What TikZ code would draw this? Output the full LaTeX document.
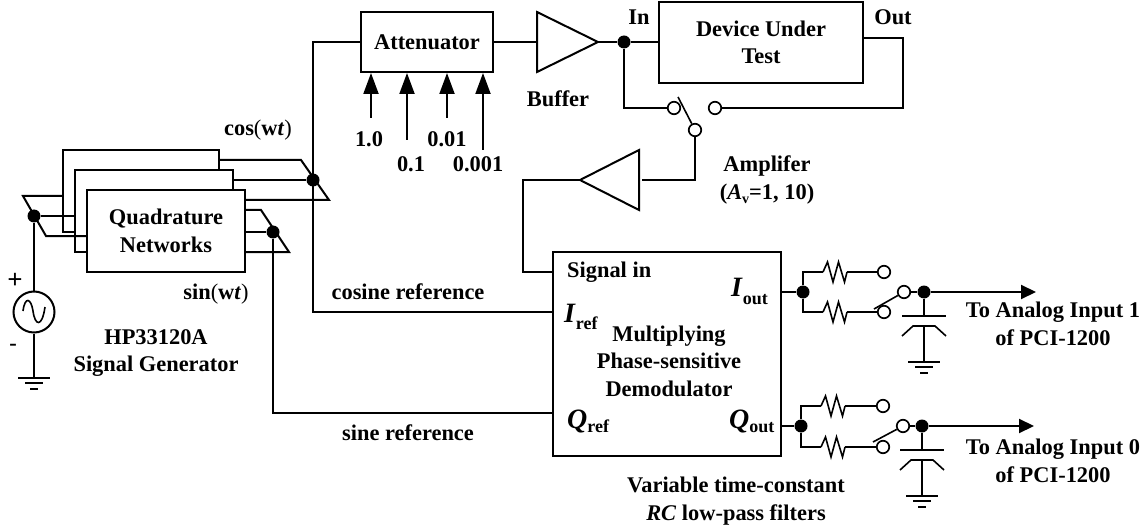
\documentclass[tikz,border=0pt]{standalone}
\usepackage{fontspec}
\setmainfont{Liberation Serif}
\usetikzlibrary{arrows.meta, positioning}

\newcommand{\biglabel}[3]{{\fontsize{28}{28}\selectfont\textit{#1}}\raisebox{#3}{\fontsize{18}{18}\selectfont #2}}

\tikzset{
  wire/.style={line width=2pt},
  thinwire/.style={line width=1.6pt},
  box/.style={draw, line width=2pt, fill=white, align=center, inner sep=0pt},
  label/.style={align=center, inner sep=0pt},
  junction/.style={circle, fill=black, inner sep=0pt, minimum size=13pt},
  contact/.style={circle, draw, line width=1.7pt, fill=white, inner sep=0pt, minimum size=12.5pt},
  ctlarrow/.style={wire, -{Triangle[length=21pt,width=15pt]}},
  outarrow/.style={wire, -{Triangle[length=15pt,width=14pt]}},
  resistor/.pic={
    \coordinate (-in) at (0,0);
    \coordinate (-out) at (24,0);
    \draw[thinwire] (0,0) -- (4.5,-10) -- (10,10) -- (15.5,-10) -- (21.5,10) -- (24,0);
  },
  gnd/.pic={
    \draw[thinwire] (-16,0) -- (16,0) (-9,5) -- (9,5) (-4,11) -- (4,11);
  },
  curvedplate/.pic={
    \draw[thinwire] (-22,10) -- (-11,0) -- (11,0) -- (22,10);
  }
}

\begin{document}
\begin{tikzpicture}[x=1pt, y=-1pt, font=\bfseries\fontsize{22.4}{27.5}\selectfont]
  \useasboundingbox (0,0) rectangle (1147,529);

  % Quadrature networks, back to front
  \node[box, minimum width=156pt, minimum height=82pt] (qnback) at (141,191) {};
  \node[box, minimum width=158pt, minimum height=82pt] (qnmid) at (154,211) {};
  \node[box, minimum width=158pt, minimum height=82pt] (qnfront) at (166,231) {Quadrature\\Networks};

  % Main blocks
  \node[box, minimum width=132pt, minimum height=60pt] (att) at (427,42) {Attenuator};
  \node[box, minimum width=204pt, minimum height=81pt] (dut) at (761,42.5) {Device Under\\Test};
  \node[box, minimum width=228pt, minimum height=204pt] (demod) at (667,354) {};

  % Source
  \node[circle, draw, line width=2pt, inner sep=0pt, minimum size=41pt] (src) at (34,312) {};
  \draw[thinwire] (23,311) .. controls (25,296) and (31,298) .. (33,311)
    .. controls (35,326) and (42,328) .. (45,307);
  \coordinate (srcgnd) at (34,378);
  \pic at (srcgnd) {gnd};
  \node[junction] (srcdot) at (34,216) {};
  \draw[wire] (srcdot) -- (src);
  \draw[wire] (src) -- (srcgnd);

  % Parallel feeds
  \node[junction] (cosdot) at (313,180) {};
  \node[junction] (sindot) at (273,232) {};
  \draw[wire] (qnback.west |- 0,196) -- (23,196) -- (46,236) -- (qnfront.west |- 0,236);
  \draw[wire] (srcdot) -- (qnmid.west |- srcdot);
  \draw[wire] (qnback.east |- 0,160) -- (301,160) -- (329,200) -- (qnfront.east |- 0,200);
  \draw[wire] (qnmid.east |- cosdot) -- (cosdot);
  \draw[wire] (qnfront.east |- 0,210) -- (261,210) -- (289,252) -- (qnfront.east |- 0,252);
  \draw[wire] (qnfront.east |- sindot) -- (sindot);

  % Reference lines
  \coordinate (irefbend) at (313,312);
  \coordinate (qrefbend) at (273,413);
  \draw[wire] (att.west) -| (irefbend) -- (demod.west |- irefbend);
  \draw[wire] (sindot) -- (qrefbend) -- (demod.west |- qrefbend);

  % Attenuator settings
  \coordinate (ctla) at (371,118);
  \coordinate (ctlb) at (407,140);
  \coordinate (ctlc) at (447,118);
  \coordinate (ctld) at (483,150);
  \draw[ctlarrow] (ctla) -- (ctla |- att.south);
  \draw[ctlarrow] (ctlb) -- (ctlb |- att.south);
  \draw[ctlarrow] (ctlc) -- (ctlc |- att.south);
  \draw[ctlarrow] (ctld) -- (ctld |- att.south);

  % Buffer and device
  \coordinate (bufin) at (537,42);
  \coordinate (bufout) at (598,42);
  \draw[wire] (bufin) -- (537,12) -- (bufout) -- (537,72) -- cycle;
  \node[junction] (indot) at (624,42) {};
  \draw[wire] (att.east) -- (bufin);
  \draw[wire] (bufout) -- (indot);
  \draw[wire] (indot) -- (dut.west |- indot);

  % Input switch
  \node[contact] (swa) at (674,108) {};
  \node[contact] (swb) at (715,108) {};
  \node[contact] (swc) at (695,130) {};
  \coordinate (armtip) at (678,97);
  \draw[thinwire] (armtip) -- (swc);
  \draw[wire] (indot) |- (swa);
  \coordinate (dutout) at (863,38);
  \coordinate (outbend) at (903,108);
  \draw[wire] (dutout) -| (outbend) -- (swb);

  % Amplifier
  \coordinate (ampin) at (642,180);
  \coordinate (ampout) at (580,180);
  \coordinate (sigbend) at (523,272);
  \draw[wire] (639,150) -- (639,210) -- (ampout) -- cycle;
  \draw[wire] (swc) |- (ampin);
  \draw[wire] (ampout) -| (sigbend) -- (demod.west |- sigbend);

  % I filter
  \node[junction] (idot) at (803,292) {};
  \node[junction] (iodot) at (924,292) {};
  \node[contact] (ifa) at (884,272) {};
  \node[contact] (ifb) at (884,312) {};
  \node[contact] (ifc) at (904,292) {};
  \coordinate (iarrow) at (1036,292);
  \coordinate (iarm) at (874,309);
  \coordinate (iplate) at (924,316);
  \coordinate (icurve) at (924,326);
  \coordinate (ignd) at (924,362);
  \pic (ira) at (823,272) {resistor};
  \pic (irb) at (823,312) {resistor};
  \draw[wire] (demod.east |- idot) -- (idot);
  \draw[wire] (idot) |- (ira-in);
  \draw[wire] (idot) |- (irb-in);
  \draw[wire] (ira-out) -- (ifa);
  \draw[wire] (irb-out) -- (ifb);
  \draw[thinwire] (iarm) -- (ifc);
  \draw[wire] (ifc) -- (iodot);
  \draw[outarrow] (iodot) -- (iarrow);
  \draw[wire] (iodot) -- (iplate);
  \draw[wire] (902,316) -- (946,316);
  \pic at (icurve) {curvedplate};
  \draw[wire] (icurve) -- (ignd);
  \pic at (ignd) {gnd};

  % Q filter
  \node[junction] (qdot) at (801,426) {};
  \node[junction] (qodot) at (922,426) {};
  \node[contact] (qfa) at (883,406) {};
  \node[contact] (qfb) at (883,447) {};
  \node[contact] (qfc) at (903,426) {};
  \coordinate (qarrow) at (1034,426);
  \coordinate (qarm) at (873,442);
  \coordinate (qplate) at (922,450);
  \coordinate (qcurve) at (922,460);
  \coordinate (qgnd) at (922,496);
  \pic (qra) at (821,406) {resistor};
  \pic (qrb) at (821,447) {resistor};
  \draw[wire] (demod.east |- qdot) -- (qdot);
  \draw[wire] (qdot) |- (qra-in);
  \draw[wire] (qdot) |- (qrb-in);
  \draw[wire] (qra-out) -- (qfa);
  \draw[wire] (qrb-out) -- (qfb);
  \draw[thinwire] (qarm) -- (qfc);
  \draw[wire] (qfc) -- (qodot);
  \draw[outarrow] (qodot) -- (qarrow);
  \draw[wire] (qodot) -- (qplate);
  \draw[wire] (900,450) -- (944,450);
  \pic at (qcurve) {curvedplate};
  \draw[wire] (qcurve) -- (qgnd);
  \pic at (qgnd) {gnd};

  % Labels
  \node[label, scale=1.2] (lblplus) at (15,281) {+};
  \node[label] (lblminus) at (13,347) {-};
  \node[label] (lblgen) at (156,353) {HP33120A\\Signal Generator};
  \node[label] (lblcos) at (258,130) {cos{\mdseries(}w\textit{t}{\mdseries)}};
  \node[label] (lblsin) at (216,294) {sin{\mdseries(}w\textit{t}{\mdseries)}};
  \node[label] (lblcosref) at (408,292) {cosine reference};
  \node[label] (lblsinref) at (408,433) {sine reference};
  \node[label] (lblone) at (369,139) {1.0};
  \node[label] (lbltenth) at (411,164) {0.1};
  \node[label] (lblhund) at (447,139) {0.01};
  \node[label] (lblthou) at (478,164) {0.001};
  \node[label] (lblbuf) at (558,99) {Buffer};
  \node[label] (lblin) at (639,17) {In};
  \node[label] (lblout) at (893,17) {Out};
  \node[label] (lblamp) at (767,180) {Amplifer\\(\textit{A}\raisebox{-4pt}{\fontsize{14}{14}\selectfont v}=1, 10)};
  \node[label, anchor=base west] (lblsig) at (567,277) {Signal in};
  \node[label] (lbldemod) at (669,361) {Multiplying\\Phase-sensitive\\Demodulator};
  \node[label, anchor=base west] (lbliref) at (564,322) {\biglabel{I}{ref}{-7pt}};
  \node[label, anchor=base west] (lblqref) at (567,428) {\biglabel{Q}{ref}{-4pt}};
  \node[label, anchor=base west] (lbliout) at (731,296) {\biglabel{I}{out}{-8pt}};
  \node[label, anchor=base west] (lblqout) at (729,428) {\biglabel{Q}{out}{-4pt}};
  \node[label] (lblain) at (1053,324) {To Analog Input 1\\of PCI-1200};
  \node[label] (lblaio) at (1053,461) {To Analog Input 0\\of PCI-1200};
  \node[label] (lblrc) at (736,501) {Variable time-constant\\\textit{RC} low-pass filters};
\end{tikzpicture}
\end{document}
